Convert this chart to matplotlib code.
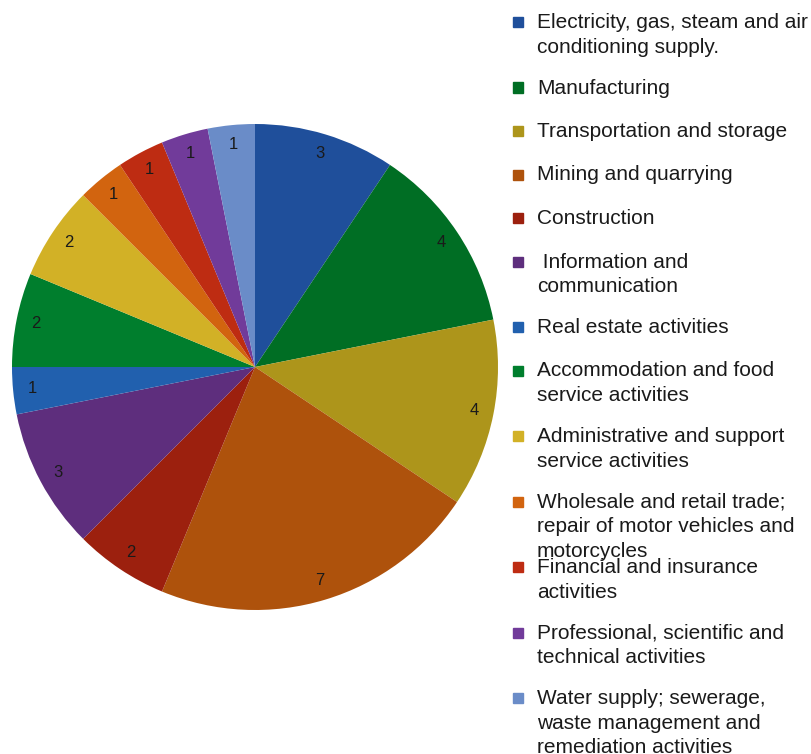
import matplotlib
matplotlib.use("Agg")
import matplotlib.pyplot as plt
from matplotlib.patches import Rectangle

plt.rcParams['font.family'] = ['Liberation Sans', 'DejaVu Sans']

# Sectors and number of firms in each one
sectors = [
    "Electricity, gas, steam and air\nconditioning supply.",
    "Manufacturing",
    "Transportation and storage",
    "Mining and quarrying",
    "Construction",
    " Information and\ncommunication",
    "Real estate activities",
    "Accommodation and food\nservice activities",
    "Administrative and support\nservice activities",
    "Wholesale and retail trade;\nrepair of motor vehicles and\nmotorcycles",
    "Financial and insurance\nactivities",
    "Professional, scientific and\ntechnical activities",
    "Water supply; sewerage,\nwaste management and\nremediation activities",
]
counts = [3, 4, 4, 7, 2, 3, 1, 2, 2, 1, 1, 1, 1]
colors = ["#1f4f9b", "#006e24", "#ad951b", "#ae520c", "#9c200e", "#5e2e7d",
          "#2160ae", "#007e2d", "#d2b126", "#d2640f", "#be2c12", "#713b9a",
          "#6a8cc8"]

W, H = 812, 754
fig = plt.figure(figsize=(W / 100, H / 100), dpi=100)

cx, cy, r = 255, 367, 243
ax = fig.add_axes([(cx - r) / W, (H - cy - r) / H, 2 * r / W, 2 * r / H])
wedges, texts = ax.pie(counts, colors=colors, startangle=90, counterclock=False,
                       labels=[str(c) for c in counts], labeldistance=0.92,
                       wedgeprops=dict(linewidth=0),
                       textprops=dict(fontsize=12, color="#1a1a1a"))
for t in texts:
    t.set_horizontalalignment("center")
    t.set_verticalalignment("center")
ax.set_xlim(-1, 1)
ax.set_ylim(-1, 1)
ax.set_aspect("equal")

# legend drawn by hand so the long entries wrap like the original
y = 22
for name, col in zip(sectors, colors):
    nlines = name.count("\n") + 1
    fig.patches.append(Rectangle((513 / W, (H - y - 5) / H), 10 / W, 10 / H,
                                 transform=fig.transFigure, color=col,
                                 figure=fig))
    fig.text(537 / W, (H - y + 9) / H, name, fontsize=15, color="#1a1a1a",
             va="top", ha="left", linespacing=1.37)
    y += 43.5 if nlines == 1 else 65.5

fig.savefig("out.png", dpi=100)
